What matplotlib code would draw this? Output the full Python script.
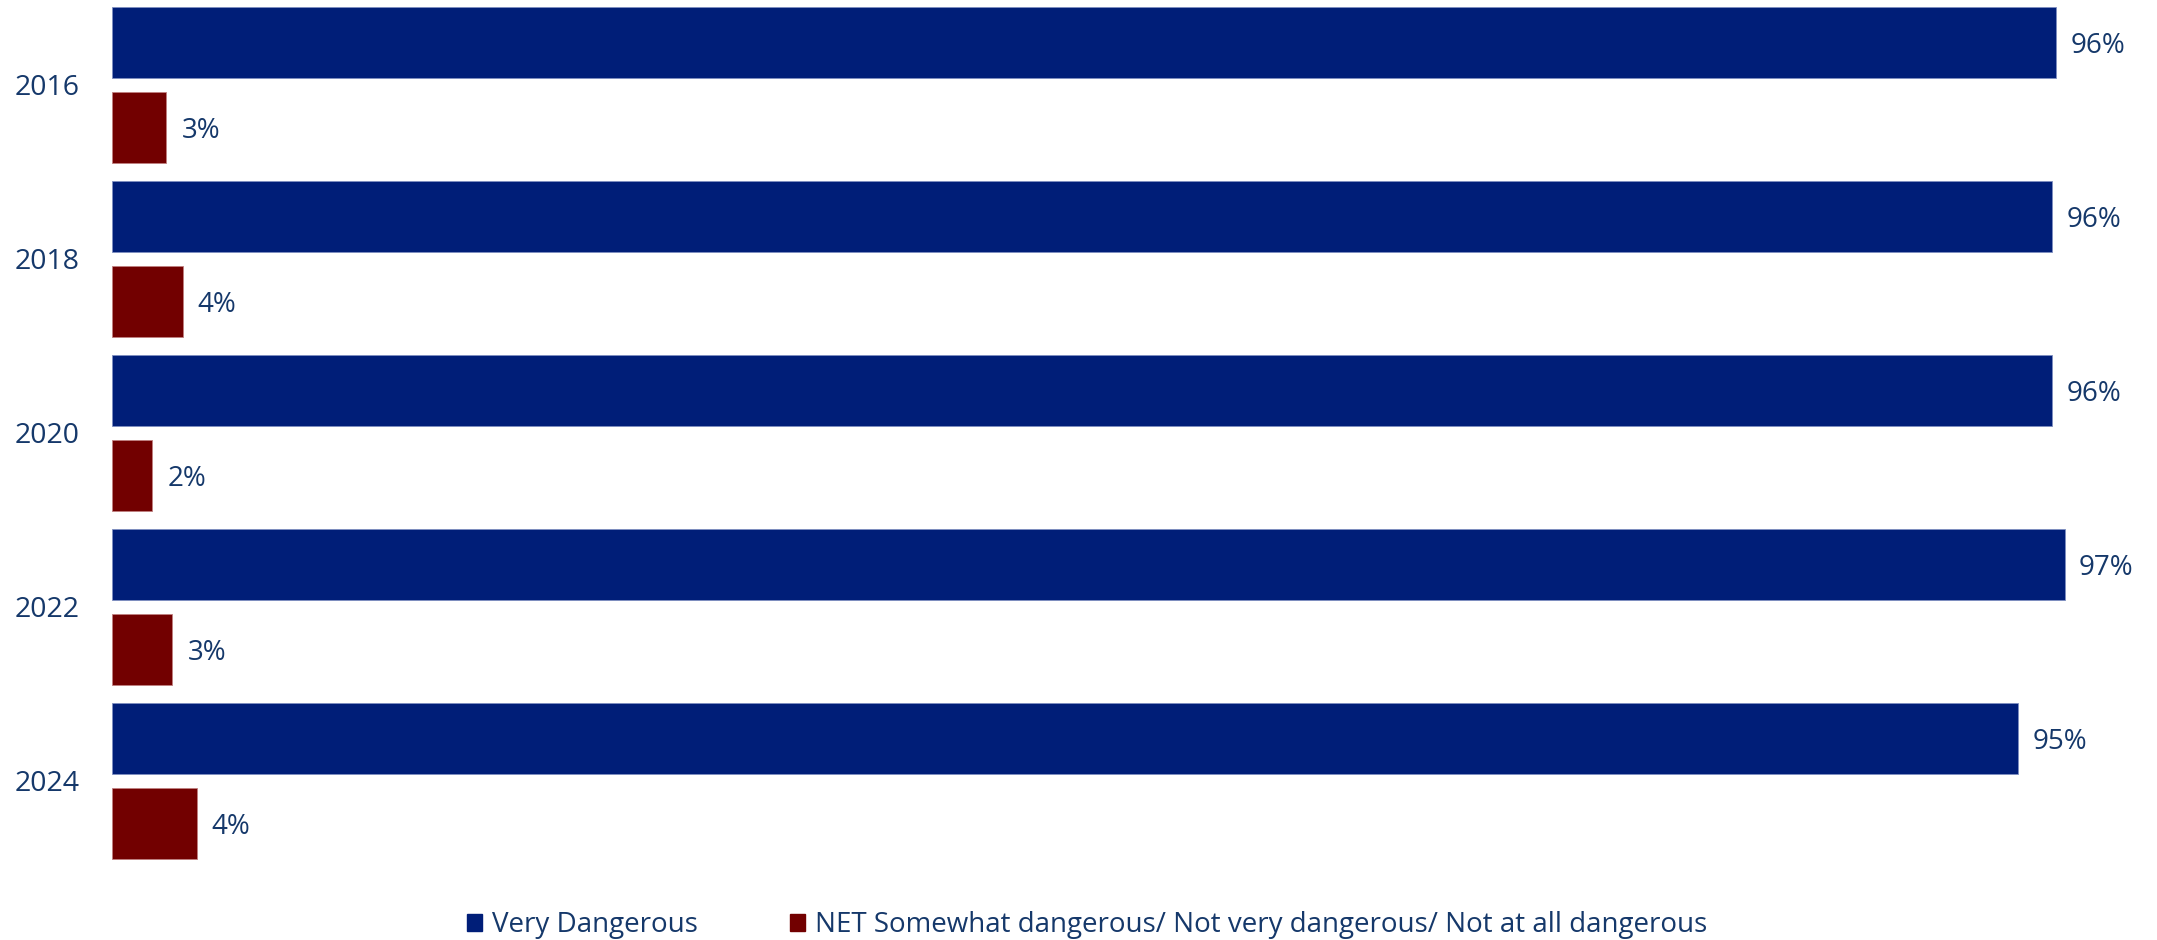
import matplotlib
matplotlib.use("Agg")
import matplotlib.pyplot as plt
from matplotlib.patches import Patch
import numpy as np

years = ["2016", "2018", "2020", "2022", "2024"]
very_dangerous = [96.5, 96.3, 96.3, 96.9, 94.6]
very_labels = ["96%", "96%", "96%", "97%", "95%"]
net_somewhat = [2.7, 3.5, 2.0, 3.0, 4.2]
net_labels = ["3%", "4%", "2%", "3%", "4%"]
series_names = ["Very Dangerous",
                "NET Somewhat dangerous/ Not very dangerous/ Not at all dangerous"]

BLUE = "#001E78"
RED = "#720000"
TXT = "#15386A"
plt.rcParams['font.family'] = ['Open Sans', 'DejaVu Sans']

W, H = 2157, 940
fig = plt.figure(figsize=(W / 100, H / 100), dpi=100)
ax_left, ax_right = 112, 2157
ax_top, ax_bot = 0, 868
ax = fig.add_axes([ax_left / W, 1 - ax_bot / H, (ax_right - ax_left) / W, (ax_bot - ax_top) / H])

y = np.arange(len(years))
off = 0.244
h = 0.408
ax.barh(y - off, very_dangerous, height=h, color=BLUE, edgecolor="#7E8FC0", linewidth=0.6)
ax.barh(y + off, net_somewhat, height=h, color=RED, edgecolor="#C08080", linewidth=0.6)

ax.set_xlim(0, (ax_right - ax_left) / 20.15)
ax.set_ylim(4.5, -0.4885)
for s in ax.spines.values():
    s.set_visible(False)
ax.set_xticks([])
ax.set_yticks(y)
ax.set_yticklabels(years, fontsize=20.5, color=TXT)
ax.tick_params(axis='y', length=0, pad=23)

for i in range(len(years)):
    ax.annotate(very_labels[i], (very_dangerous[i], y[i] - off), xytext=(14, -3),
                textcoords="offset pixels", va="center", ha="left", fontsize=20, color=TXT)
    ax.annotate(net_labels[i], (net_somewhat[i], y[i] + off), xytext=(15, -4),
                textcoords="offset pixels", va="center", ha="left", fontsize=20, color=TXT)

handles = [Patch(color=BLUE), Patch(color=RED)]
fig.legend(handles, series_names, loc="center", bbox_to_anchor=(1087 / W, 1 - 925 / H),
           ncol=2, frameon=False, fontsize=20, labelcolor=TXT, handlelength=0.55,
           handleheight=0.55, handletextpad=0.35, columnspacing=3.3)

fig.savefig("out.png", dpi=100, facecolor="white")
